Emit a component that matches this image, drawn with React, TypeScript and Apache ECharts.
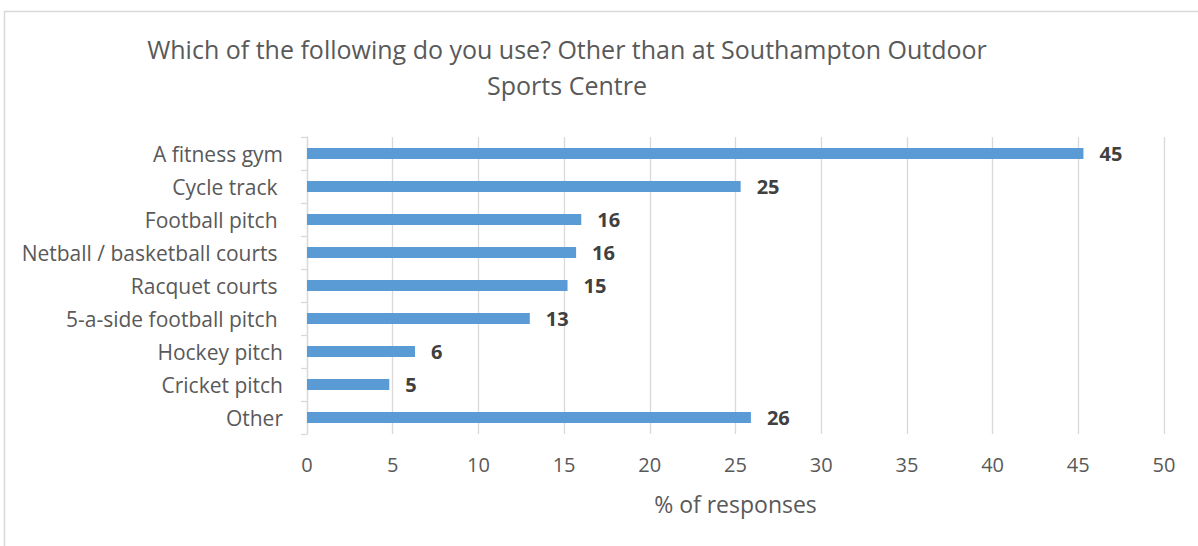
import React, { useEffect, useRef } from "react";
import * as echarts from "echarts";

const categories = [
  "A fitness gym",
  "Cycle track ",
  "Football pitch ",
  "Netball / basketball courts ",
  "Racquet courts ",
  "5-a-side football pitch ",
  "Hockey pitch",
  "Cricket pitch",
  "Other",
];
const values = [45.3, 25.3, 16.0, 15.7, 15.2, 13.0, 6.3, 4.8, 25.9];
const titleLines = [
  "Which of the following do you use? Other than at Southampton Outdoor",
  "Sports Centre",
];
const axisName = "% of responses";

const FONT = "'Open Sans', 'Noto Sans', sans-serif";

export default function App() {
  const ref = useRef<HTMLDivElement>(null);
  useEffect(() => {
    if (!ref.current) return;
    const chart = echarts.init(ref.current, undefined, { renderer: "svg" });
    chart.setOption({
      animation: false,
      backgroundColor: "#ffffff",
      textStyle: { fontFamily: FONT },
      graphic: [
        {
          type: "rect",
          shape: { x: 4.5, y: 11.5, width: 1300, height: 700 },
          style: { fill: "none", stroke: "#d9d9d9", lineWidth: 1.5 },
          silent: true,
        },
        {
          type: "text",
          x: 567,
          y: 31,
          style: {
            text: titleLines.join("\n"),
            fontFamily: FONT,
            fontSize: 25,
            lineHeight: 36,
            fill: "#595959",
            align: "center",
            verticalAlign: "top",
          },
        },
      ],
      grid: { left: 307, right: 34, top: 137, bottom: 112, containLabel: false },
      xAxis: {
        type: "value",
        min: 0,
        max: 50,
        interval: 5,
        name: axisName,
        nameLocation: "middle",
        nameGap: 58,
        nameTextStyle: { fontSize: 23, color: "#595959", fontFamily: FONT },
        axisLine: { show: false },
        axisTick: { show: false },
        axisLabel: { fontSize: 20, color: "#595959", margin: 20, fontFamily: FONT },
        splitLine: { show: true, lineStyle: { color: "#d9d9d9", width: 1.3 } },
      },
      yAxis: {
        type: "category",
        inverse: true,
        data: categories,
        axisLine: { show: true, lineStyle: { color: "#d9d9d9", width: 1.3 } },
        axisTick: { show: true, length: 6, lineStyle: { color: "#d9d9d9", width: 1.3 } },
        axisLabel: { fontSize: 21, color: "#595959", margin: 24, fontFamily: FONT },
      },
      series: [
        {
          type: "bar",
          data: values,
          barWidth: 11,
          itemStyle: { color: "#5b9bd5" },
          label: {
            show: true,
            position: "right",
            distance: 16,
            fontSize: 20,
            fontWeight: "bold",
            color: "#404040",
            fontFamily: FONT,
            formatter: (p: any) => String(Math.round(p.value)),
          },
        },
      ],
    });
    return () => chart.dispose();
  }, []);
  return (
    <div
      ref={ref}
      style={{ position: "absolute", left: 0, top: 0, width: 1198, height: 546 }}
    />
  );
}
